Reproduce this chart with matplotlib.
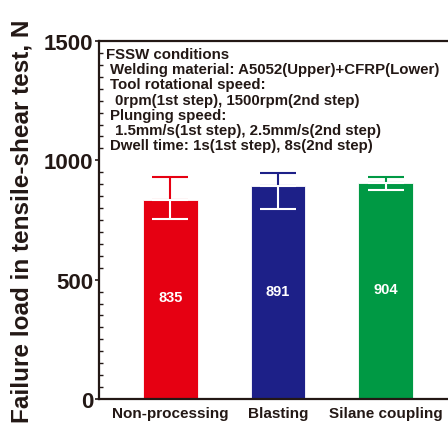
import matplotlib

matplotlib.use("Agg")
import matplotlib.pyplot as plt
from matplotlib.ticker import MultipleLocator

plt.rcParams["font.family"] = ["Liberation Sans", "DejaVu Sans"]
plt.rcParams["font.weight"] = "bold"

# data
categories = ["Non-processing", "Blasting", "Silane coupling"]
loads = [835, 891, 904]
err_low = [80, 97, 29]
err_high = [95, 56, 28]
bar_colors = ["#e60012", "#1d2088", "#009944"]
y_ticks = [0, 500, 1000, 1500]
condition_lines = [
    (0, "FSSW conditions"),
    (1, "Welding material: A5052(Upper)+CFRP(Lower)"),
    (1, "Tool rotational speed:"),
    (2, "0rpm(1st step), 1500rpm(2nd step)"),
    (1, "Plunging speed:"),
    (2, "1.5mm/s(1st step), 2.5mm/s(2nd step)"),
    (1, "Dwell time: 1s(1st step), 8s(2nd step)"),
]

ink = "#231815"
figure = plt.figure(figsize=(4.48, 4.27), dpi=100)
axis = figure.add_axes([99 / 448, 27 / 427, 349 / 448, 358 / 427])

positions = range(len(categories))
axis.bar(positions, loads, width=0.505, color=bar_colors,
         edgecolor="white", linewidth=0.6, zorder=2)

for pos, load, low, high, color in zip(positions, loads, err_low, err_high, bar_colors):
    # upper half of the error bar in the bar colour, lower half in white
    axis.errorbar(pos, load, yerr=[[0], [high]], color=color, elinewidth=1.5,
                  capsize=13, capthick=1.5, zorder=3)
    axis.errorbar(pos, load, yerr=[[low], [0]], color="white", elinewidth=1.5,
                  capsize=13, capthick=1.5, zorder=3)
    axis.text(pos, load / 2 + 8, str(load), color="white", fontsize=10.5,
              fontweight="bold", ha="center", va="center", zorder=4)

axis.set_xlim(-0.665, 2.581)
axis.set_ylim(0, 1500)
axis.set_xticks(list(positions))
axis.set_xticklabels(categories, fontsize=11, fontweight="bold", color=ink)
axis.tick_params(axis="x", length=0, pad=5)

axis.set_yticks(y_ticks)
axis.set_yticklabels([str(t) for t in y_ticks], fontsize=16, fontweight="bold", color=ink)
axis.yaxis.set_minor_locator(MultipleLocator(50))
axis.tick_params(axis="y", which="major", direction="out", length=3, width=1.2,
                 color=ink, pad=1)
axis.tick_params(axis="y", which="minor", direction="in", length=3, width=1.0,
                 color=ink)

for side in ["left", "bottom", "top"]:
    axis.spines[side].set_linewidth(1.6)
    axis.spines[side].set_color(ink)
axis.spines["right"].set_visible(False)

indents = [0.020, 0.0315, 0.046]
for row, (level, line) in enumerate(condition_lines):
    axis.text(indents[level], 0.9637 - row * 0.0425, line, transform=axis.transAxes,
              fontsize=10.8, fontweight="bold", color=ink, ha="left", va="center")

figure.text(22 / 448, 0.482, "Failure load in tensile-shear test, N", rotation=90,
            fontsize=17.5, fontweight="bold", color=ink, ha="center", va="center")

figure.savefig("out.png", dpi=100)
plt.close(figure)
